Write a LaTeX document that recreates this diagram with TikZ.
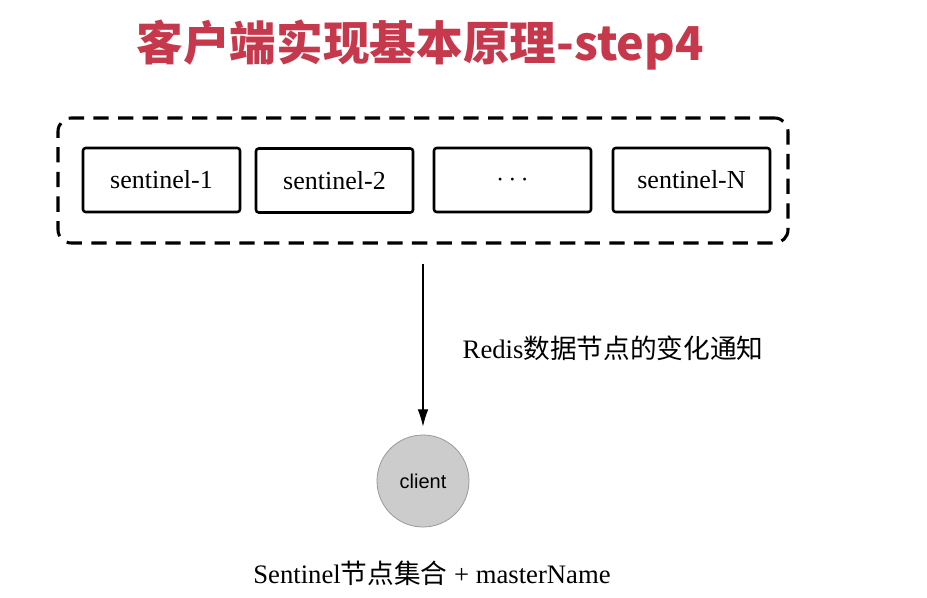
\documentclass[tikz,border=0pt]{standalone}
\usepackage{fontspec}
\setmainfont{Liberation Serif}
\newfontfamily\cjk{Noto Sans CJK SC}
\newfontfamily\helv{Liberation Sans}
\usetikzlibrary{arrows.meta}
\definecolor{titelrot}{RGB}{198,57,76}
\definecolor{clientgrau}{RGB}{204,204,204}

\begin{document}
\begin{tikzpicture}[x=0.75pt, y=-0.75pt]

    % --- Grundeinstellungen für Styles ---
    \tikzset{
        titel/.style={text=titelrot, font=\cjk\bfseries\fontsize{35}{40}\selectfont},
        textlabel/.style={font=\fontsize{20}{24}\selectfont},
        sentinelbox/.style={draw, line width=1.9pt, rounded corners=2pt, minimum width=117.75pt, minimum height=48pt, font=\fontsize{19.5}{22}\selectfont},
        pool/.style={draw, dash pattern=on 11.5pt off 7pt, line width=2.3pt, rounded corners=10pt, minimum width=547.5pt, minimum height=93.75pt},
        clientnode/.style={circle, draw=gray!80, fill=clientgrau, line width=0.6pt, minimum size=69pt, font=\helv\fontsize{15}{18}\selectfont}
    }

    \useasboundingbox (0,0) rectangle (927,597);

    % --- 1. Überschrift ---
    \node[titel] (titel) at (420,45) {客户端实现基本原理-step4};

    % --- 2. Sentinel-Knoten (gestrichelter Rahmen) ---
    \node[pool] (pool) at (423,180.5) {};

    \node[sentinelbox] (s1) at (161.5,180) {sentinel-1};
    \node[sentinelbox] (s2) at (334.5,180.5) {sentinel-2};
    \node[sentinelbox] (sdots) at (512.5,180) {$\cdots$};
    \node[sentinelbox] (sN) at (691.5,180) {sentinel-N};

    % --- 3. Client und Benachrichtigung ---
    \node[clientnode] (client) at (423,481) {client};

    % Pfeil mit grosser Spitze wie im Original
    \draw[-{Latex[length=13pt,width=8pt]}, line width=0.8pt, shorten <=14.25pt, shorten >=6pt] (pool) -- (client);

    \node[textlabel, anchor=west] (hinweis) at (458,348) {Redis{\cjk 数据节点的变化通知}};

    % --- 4. Beschriftung unten ---
    \node[textlabel] (menge) at (432,573) {Sentinel{\cjk 节点集合} + masterName};

\end{tikzpicture}
\end{document}
